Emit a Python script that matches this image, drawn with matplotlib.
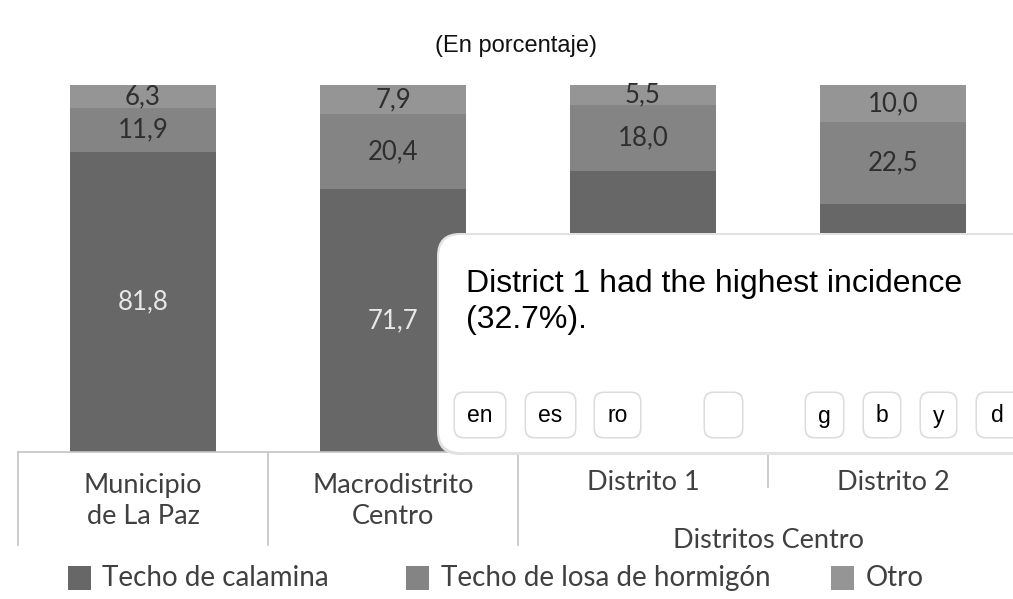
import matplotlib
matplotlib.use("Agg")
import matplotlib.pyplot as plt
from matplotlib.patches import FancyBboxPatch, Rectangle
from matplotlib.transforms import IdentityTransform
import numpy as np

# ---- data ----
categories = ["Municipio\nde La Paz", "Macrodistrito\nCentro", "Distrito 1", "Distrito 2"]
series_names = ["Techo de calamina", "Techo de losa de hormigón", "Otro"]
calamina = [81.8, 71.7, 76.5, 67.5]
losa = [11.9, 20.4, 18.0, 22.5]
otro = [6.3, 7.9, 5.5, 10.0]
# which value labels are visible (the calamina labels of the districts are hidden by the card)
visible = [[True, True, False, False], [True, True, True, True], [True, True, True, True]]
group_label = "Distritos Centro"
title = "(En porcentaje)"
note_text = "District 1 had the highest incidence\n(32.7%)."
buttons = ["en", "es", "ro", "", "g", "b", "y", "d"]

colors = ["#676767", "#848484", "#959595"]
label_colors = ["#e8e8e8", "#2e2e2e", "#2e2e2e"]
chart_font = ["Lato", "DejaVu Sans"]
ui_font = ["Liberation Sans", "DejaVu Sans"]

W, H = 1013, 599
fig = plt.figure(figsize=(W / 100, H / 100), dpi=100)
fig.patch.set_facecolor("white")

def fx(x):
    return x / W

def fy(y):
    return 1 - y / H

ax_left, ax_right, ax_top, ax_bottom = 18, 1018, 85, 452
ax = fig.add_axes([fx(ax_left), fy(ax_bottom), (ax_right - ax_left) / W, (ax_bottom - ax_top) / H])
ax.set_xlim(-0.5, 3.5)
ax.set_ylim(0, 100)
for s in ["top", "right", "left"]:
    ax.spines[s].set_visible(False)
ax.spines["bottom"].set_color("#c4c4c4")
ax.spines["bottom"].set_linewidth(1.2)
ax.set_xticks([])
ax.set_yticks([])

x = np.arange(len(categories))
bottom = np.zeros(len(categories))
for vals, col, lc, name, vis in zip([calamina, losa, otro], colors, label_colors, series_names, visible):
    bc = ax.bar(x, vals, width=0.585, bottom=bottom, color=col, label=name, zorder=2)
    labs = [f"{v:.1f}".replace(".", ",") if ok else "" for v, ok in zip(vals, vis)]
    ax.bar_label(bc, labels=labs, label_type="center", color=lc, fontsize=18.5, family=chart_font)
    bottom += np.array(vals)

# separators below the axis
xt = ax.get_xaxis_transform()
def ay(ypix):
    return (ax_bottom - ypix) / (ax_bottom - ax_top)

for xs, yend in [(-0.5, 545), (0.5, 545), (1.5, 545), (2.5, 487)]:
    ax.plot([xs, xs], [0, ay(yend)], transform=xt, color="#c4c4c4", lw=1.2, clip_on=False)

label_color = "#404040"
fs_cat = 19.5
for i, cat in enumerate(categories):
    if "\n" in cat:
        ax.text(i, ay(501), cat, transform=xt, ha="center", va="center", fontsize=fs_cat,
                family=chart_font, color=label_color, linespacing=1.32)
    else:
        ax.text(i, ay(483), cat, transform=xt, ha="center", va="center", fontsize=fs_cat,
                family=chart_font, color=label_color)
ax.text(2.5, ay(540), group_label, transform=xt, ha="center", va="center", fontsize=fs_cat,
        family=chart_font, color=label_color)

# legend (manual)
leg_items = [(68, 102), (406, 441), (831, 866)]
for (sq_x, tx_x), col, name in zip(leg_items, colors, series_names):
    fig.patches.append(Rectangle((fx(sq_x), fy(590)), 23 / W, 24 / H, transform=fig.transFigure,
                                 facecolor=col, edgecolor="none"))
    fig.text(fx(tx_x), fy(578), name, ha="left", va="center", fontsize=20,
             family=chart_font, color=label_color)

# title
fig.text(fx(516), fy(46), title, ha="center", va="center", fontsize=17, family=ui_font, color="#111111")

# overlay card (pixel coordinates)
idt = IdentityTransform()
bx0, by0, bx1, by1 = 439, 235, 1040, 452
shadow = FancyBboxPatch((bx0 - 2, H - by1 - 3), bx1 - bx0 + 4, by1 - by0 + 5,
                        boxstyle="round,pad=0,rounding_size=23", transform=idt,
                        facecolor="#e2e2e2", edgecolor="none", zorder=9)
card = FancyBboxPatch((bx0, H - by1), bx1 - bx0, by1 - by0,
                      boxstyle="round,pad=0,rounding_size=22", transform=idt,
                      facecolor="white", edgecolor="none", zorder=10)
fig.patches.extend([shadow, card])
fig.text(fx(466), fy(269), note_text, ha="left", va="top", fontsize=23, family=ui_font,
         color="black", zorder=11, linespacing=1.25)

btn_x = [(455, 505), (526, 575), (595, 640), (705, 742), (806, 843), (864, 900), (921, 956), (977, 1025)]
for (x0, x1), lab in zip(btn_x, buttons):
    sh = FancyBboxPatch((x0 - 1.5, H - 438.5), x1 - x0 + 3, 47,
                        boxstyle="round,pad=0,rounding_size=10", transform=idt,
                        facecolor="#dcdcdc", edgecolor="none", zorder=11)
    b = FancyBboxPatch((x0, H - 437), x1 - x0, 44,
                       boxstyle="round,pad=0,rounding_size=9", transform=idt,
                       facecolor="white", edgecolor="none", zorder=12)
    fig.patches.extend([sh, b])
    if lab:
        cx = (x0 + 1013) / 2 + 2 if x1 > 1013 else (x0 + x1) / 2
        fig.text(fx(cx), fy(416), lab, ha="center", va="center", fontsize=16.5,
                 family=ui_font, color="black", zorder=13)

fig.savefig("out.png", dpi=100)
